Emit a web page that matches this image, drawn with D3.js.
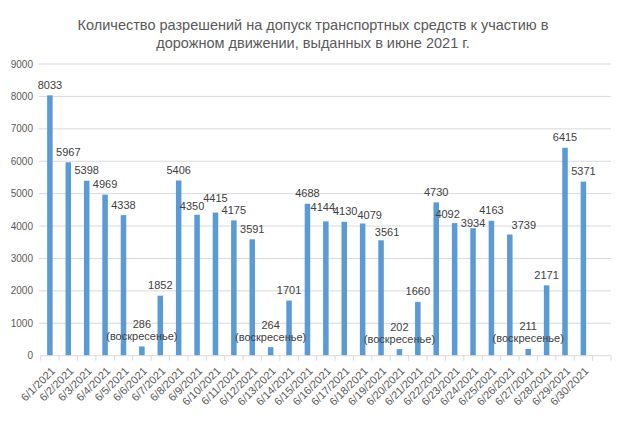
<!DOCTYPE html>
<html>
<head>
<meta charset="utf-8">
<script src="https://cdn.jsdelivr.net/npm/d3@7"></script>
<style>
  body { margin: 0; background: #fff; }
  text { font-family: "Liberation Sans", Arial, sans-serif; }
</style>
</head>
<body>
<svg width="624" height="425"></svg>
<script>
// dates of June 2021 (last category is an empty slot, as in the source chart)
const dates = ["6/1/2021","6/2/2021","6/3/2021","6/4/2021","6/5/2021","6/6/2021","6/7/2021",
  "6/8/2021","6/9/2021","6/10/2021","6/11/2021","6/12/2021","6/13/2021","6/14/2021",
  "6/15/2021","6/16/2021","6/17/2021","6/18/2021","6/19/2021","6/20/2021","6/21/2021",
  "6/22/2021","6/23/2021","6/24/2021","6/25/2021","6/26/2021","6/27/2021","6/28/2021",
  "6/29/2021","6/30/2021",""];
const permits = [8033,5967,5398,4969,4338,286,1852,5406,4350,4415,4175,3591,264,1701,
  4688,4144,4130,4079,3561,202,1660,4730,4092,3934,4163,3739,211,2171,6415,5371,null];
const sundays = ["6/6/2021","6/13/2021","6/20/2021","6/27/2021"];
const yTicks = [0,1000,2000,3000,4000,5000,6000,7000,8000,9000];
const titleLines = ["Количество разрешений на допуск транспортных средств к участию в",
  "дорожном движении, выданных в июне 2021 г."];
const sundayNote = "(воскресенье)";

// labels that were dragged by hand in the original (dx, dy in px)
const nudge = {"6/9/2021":[-5,2],"6/10/2021":[0,-4],"6/16/2021":[-3,-4],"6/17/2021":[1,0],
  "6/18/2021":[7,2],"6/19/2021":[6,2],"6/23/2021":[-7,1],"6/24/2021":[0,5],"6/26/2021":[14,1]};

const svg = d3.select("svg");
const plotL = 40.7, plotR = 611, plotT = 64, plotB = 355.7;

const x = d3.scaleBand().domain(dates).range([plotL, plotR]).paddingInner(0.7).paddingOuter(0.35);
const y = d3.scaleLinear().domain([0, 9000]).range([plotB, plotT]);

// title
svg.append("text")
  .attr("x", 313).attr("y", 30)
  .attr("text-anchor", "middle")
  .attr("fill", "#595959")
  .style("font-size", "14.5px")
  .selectAll("tspan").data(titleLines).enter().append("tspan")
  .attr("x", 313).attr("dy", (d, i) => i ? 18 : 0)
  .text(d => d);

// gridlines
svg.append("g").selectAll("line").data(yTicks.slice(1)).enter().append("line")
  .attr("x1", plotL - 2).attr("x2", plotR)
  .attr("y1", d => y(d)).attr("y2", d => y(d))
  .attr("stroke", "#d9d9d9").attr("stroke-width", 1);

// y labels
svg.append("g").selectAll("text").data(yTicks).enter().append("text")
  .attr("x", 33).attr("y", d => y(d) + 3.5)
  .attr("text-anchor", "end")
  .attr("fill", "#595959")
  .style("font-size", "10px")
  .text(d => d);

// bars
const rows = dates.map((d, i) => ({ date: d, v: permits[i] })).filter(r => r.v != null);
svg.append("g").selectAll("rect").data(rows).enter().append("rect")
  .attr("x", d => x(d.date)).attr("width", x.bandwidth())
  .attr("y", d => y(d.v)).attr("height", d => plotB - y(d.v))
  .attr("fill", "#5b9bd5");

// category axis
const step = x.step();
svg.append("line").attr("x1", plotL).attr("x2", plotR).attr("y1", plotB).attr("y2", plotB)
  .attr("stroke", "#d9d9d9");
svg.append("g").selectAll("line").data(d3.range(dates.length + 1)).enter().append("line")
  .attr("x1", i => plotL + i * step).attr("x2", i => plotL + i * step)
  .attr("y1", plotB).attr("y2", plotB + 5)
  .attr("stroke", "#d9d9d9");
svg.append("g").selectAll("text").data(dates.filter(d => d)).enter().append("text")
  .attr("transform", d => `translate(${x(d) + x.bandwidth() / 2 + 6},${plotB + 16}) rotate(-45)`)
  .attr("text-anchor", "end")
  .attr("fill", "#595959")
  .style("font-size", "11px")
  .text(d => d);

// data labels
const lab = svg.append("g").attr("fill", "#404040").style("font-size", "11px");
rows.forEach(r => {
  const cx = x(r.date) + x.bandwidth() / 2;
  const n = nudge[r.date] || [0, 0];
  if (sundays.includes(r.date)) {
    lab.append("text").attr("x", cx).attr("y", y(r.v) - 6.5)
      .attr("text-anchor", "middle").text(sundayNote);
    lab.append("text").attr("x", cx).attr("y", y(r.v) - 18.5)
      .attr("text-anchor", "middle").text(r.v);
  } else {
    lab.append("text").attr("x", cx + n[0]).attr("y", y(r.v) - 6.5 + n[1])
      .attr("text-anchor", "middle").text(r.v);
  }
});
</script>
</body>
</html>
